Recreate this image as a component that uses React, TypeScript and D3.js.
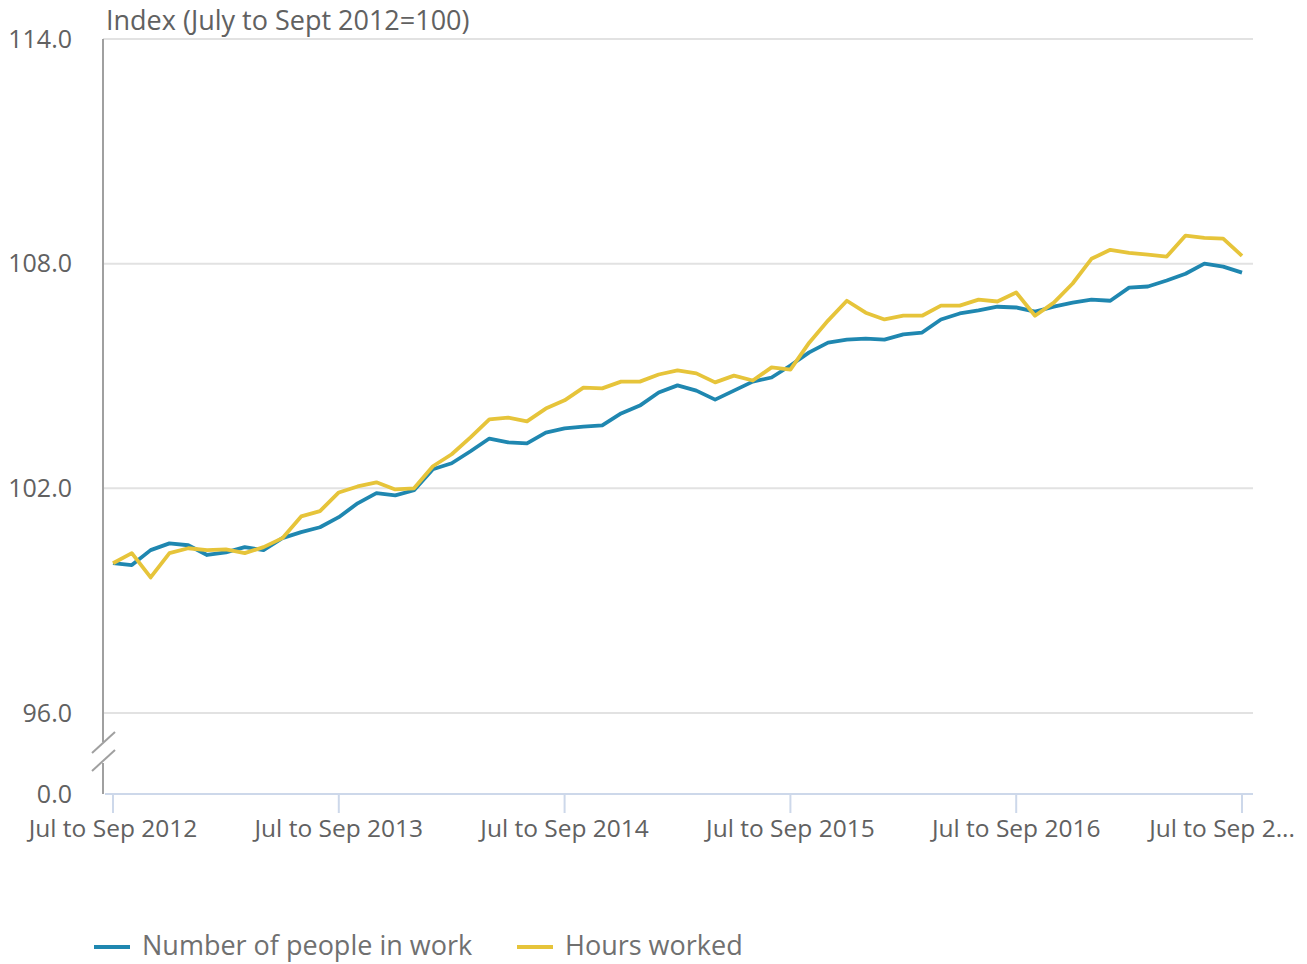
import React from "react";
import * as d3 from "d3";

const xTickLabels = ["Jul to Sep 2012", "Jul to Sep 2013", "Jul to Sep 2014", "Jul to Sep 2015", "Jul to Sep 2016", "Jul to Sep 2..."];
const xTickIndex = [0, 12, 24, 36, 48, 60];
const yTicks = [96, 102, 108, 114];

const people = [
  100.0, 99.95, 100.35, 100.53, 100.48, 100.22, 100.29, 100.43, 100.35, 100.67,
  100.83, 100.96, 101.23, 101.6, 101.87, 101.81, 101.95, 102.51, 102.67, 102.99,
  103.33, 103.23, 103.2, 103.49, 103.6, 103.65, 103.68, 104.0, 104.21, 104.56,
  104.75, 104.61, 104.37, 104.61, 104.85, 104.96, 105.28, 105.63, 105.89, 105.97,
  106.0, 105.97, 106.11, 106.16, 106.51, 106.67, 106.75, 106.85, 106.83, 106.72,
  106.85, 106.96, 107.04, 107.01, 107.36, 107.39, 107.55, 107.73, 108.0, 107.92,
  107.76,
];

const hours = [
  100.0, 100.27, 99.62, 100.27, 100.4, 100.35, 100.37, 100.27, 100.43, 100.67,
  101.25, 101.39, 101.89, 102.05, 102.16, 101.97, 102.0, 102.59, 102.91, 103.36,
  103.84, 103.89, 103.79, 104.13, 104.35, 104.69, 104.67, 104.85, 104.85, 105.04,
  105.15, 105.07, 104.83, 105.01, 104.88, 105.23, 105.17, 105.89, 106.48, 107.01,
  106.69, 106.51, 106.61, 106.61, 106.88, 106.88, 107.04, 106.99, 107.23, 106.61,
  106.96, 107.47, 108.13, 108.37, 108.29, 108.24, 108.19, 108.75, 108.69, 108.67,
  108.21,
];

const seriesNames = ["Number of people in work", "Hours worked"];
const colors = ["#1f87b0", "#e6c43a"];

const FONT = "'Open Sans', 'Noto Sans', sans-serif";

export default function App() {
  const W = 1307, H = 964;
  const left = 103, right = 1253;
  const x = d3.scaleLinear().domain([0, 60]).range([113, 1242]);
  const y = d3.scaleLinear().domain([96, 114]).range([713, 39]);
  const zeroY = 794;
  const line = d3.line<number>().x((_, i) => x(i)).y((d) => y(d));

  return (
    <svg width={W} height={H} style={{ position: "absolute", left: 0, top: 0, fontFamily: FONT }}>
      {yTicks.map((t) => (
        <line key={t} x1={left} x2={right} y1={y(t)} y2={y(t)} stroke="#e2e2e2" strokeWidth={2} />
      ))}
      {yTicks.map((t) => (
        <text key={"l" + t} x={72} y={y(t)} dy="0.35em" textAnchor="end" fontSize={25} fill="#616161">
          {t.toFixed(1)}
        </text>
      ))}
      <text x={72} y={zeroY} dy="0.35em" textAnchor="end" fontSize={25} fill="#616161">0.0</text>
      <text x={106} y={30} fontSize={27} fill="#616161">Index (July to Sept 2012=100)</text>
      <line x1={left} x2={left} y1={39} y2={742} stroke="#a0a0a0" strokeWidth={2} />
      <line x1={left} x2={left} y1={763} y2={zeroY} stroke="#a0a0a0" strokeWidth={2} />
      <line x1={92} x2={115} y1={753} y2={732} stroke="#a0a0a0" strokeWidth={2} />
      <line x1={92} x2={115} y1={771} y2={750} stroke="#a0a0a0" strokeWidth={2} />
      <line x1={105} x2={right} y1={zeroY} y2={zeroY} stroke="#cdd8ea" strokeWidth={2} />
      {xTickIndex.map((ti, k) => (
        <g key={"x" + k}>
          <line x1={x(ti)} x2={x(ti)} y1={zeroY} y2={813} stroke="#cdd8ea" strokeWidth={2} />
          <text
            x={k === xTickIndex.length - 1 ? 1295 : x(ti)}
            y={837}
            textAnchor={k === xTickIndex.length - 1 ? "end" : "middle"}
            fontSize={24.5}
            fill="#616161"
          >
            {xTickLabels[k]}
          </text>
        </g>
      ))}
      <path d={line(people) || ""} fill="none" stroke={colors[0]} strokeWidth={3.8} strokeLinejoin="round" />
      <path d={line(hours) || ""} fill="none" stroke={colors[1]} strokeWidth={3.8} strokeLinejoin="round" />
      <g>
        <line x1={94} x2={130} y1={947} y2={947} stroke={colors[0]} strokeWidth={4} />
        <text x={142} y={955} fontSize={27} fill="#707070">{seriesNames[0]}</text>
        <line x1={517} x2={553} y1={947} y2={947} stroke={colors[1]} strokeWidth={4} />
        <text x={565} y={955} fontSize={27} fill="#707070">{seriesNames[1]}</text>
      </g>
    </svg>
  );
}
